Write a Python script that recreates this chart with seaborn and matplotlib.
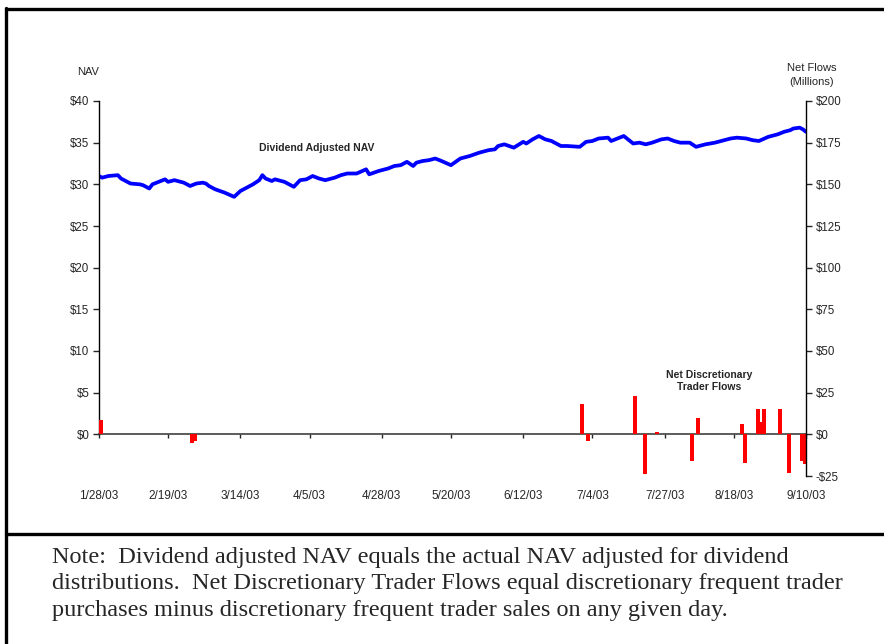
import pandas as pd
import numpy as np
import matplotlib.pyplot as plt
import matplotlib.dates as mdates
from matplotlib.lines import Line2D
import seaborn as sns

# ==============================
# DATA
# ==============================

nav_dates = [
    "2003-01-28", "2003-01-29", "2003-01-31", "2003-02-03", "2003-02-04", "2003-02-05",
    "2003-02-07", "2003-02-10", "2003-02-11", "2003-02-13", "2003-02-14", "2003-02-16",
    "2003-02-18", "2003-02-19", "2003-02-21", "2003-02-24", "2003-02-26", "2003-02-28",
    "2003-03-02", "2003-03-03", "2003-03-04", "2003-03-06", "2003-03-09", "2003-03-12",
    "2003-03-14", "2003-03-18", "2003-03-20", "2003-03-21", "2003-03-22", "2003-03-24",
    "2003-03-25", "2003-03-28", "2003-03-31", "2003-04-02", "2003-04-04", "2003-04-06",
    "2003-04-08", "2003-04-10", "2003-04-13", "2003-04-15", "2003-04-17", "2003-04-20",
    "2003-04-23", "2003-04-24", "2003-04-27", "2003-04-30", "2003-05-02", "2003-05-04",
    "2003-05-06", "2003-05-08", "2003-05-09", "2003-05-11", "2003-05-13", "2003-05-15",
    "2003-05-17", "2003-05-20", "2003-05-23", "2003-05-26", "2003-05-29", "2003-06-01",
    "2003-06-03", "2003-06-04", "2003-06-06", "2003-06-09", "2003-06-12", "2003-06-13",
    "2003-06-15", "2003-06-17", "2003-06-19", "2003-06-21", "2003-06-24", "2003-06-26",
    "2003-06-30", "2003-07-02", "2003-07-04", "2003-07-06", "2003-07-09", "2003-07-10",
    "2003-07-12", "2003-07-14", "2003-07-15", "2003-07-17", "2003-07-19", "2003-07-21",
    "2003-07-23", "2003-07-26", "2003-07-28", "2003-07-30", "2003-07-31", "2003-08-01",
    "2003-08-04", "2003-08-06", "2003-08-09", "2003-08-12", "2003-08-15", "2003-08-17",
    "2003-08-19", "2003-08-22", "2003-08-24", "2003-08-26", "2003-08-29", "2003-09-01",
    "2003-09-03", "2003-09-05", "2003-09-06", "2003-09-08", "2003-09-09", "2003-09-10",
]
nav_values = [
    31.0, 30.8, 31.0, 31.1, 30.7, 30.5,
    30.1, 30.0, 29.9, 29.5, 30.0, 30.3,
    30.6, 30.3, 30.5, 30.2, 29.8, 30.1,
    30.2, 30.1, 29.8, 29.4, 29.0, 28.5,
    29.2, 30.0, 30.5, 31.1, 30.7, 30.4,
    30.6, 30.3, 29.7, 30.5, 30.6, 31.0,
    30.7, 30.5, 30.8, 31.1, 31.3, 31.3,
    31.8, 31.2, 31.6, 31.9, 32.2, 32.3,
    32.7, 32.2, 32.6, 32.8, 32.9, 33.1,
    32.8, 32.3, 33.1, 33.4, 33.8, 34.1,
    34.2, 34.6, 34.8, 34.4, 35.1, 34.9,
    35.4, 35.8, 35.4, 35.2, 34.6, 34.6,
    34.5, 35.1, 35.2, 35.5, 35.6, 35.2,
    35.5, 35.8, 35.5, 34.9, 35.0, 34.8,
    35.0, 35.4, 35.5, 35.2, 35.1, 35.0,
    35.0, 34.5, 34.8, 35.0, 35.3, 35.5,
    35.6, 35.5, 35.3, 35.2, 35.7, 36.0,
    36.3, 36.5, 36.7, 36.8, 36.6, 36.3,
]

flow_dates = [
    "2003-01-28", "2003-02-26", "2003-02-27", "2003-06-30", "2003-07-02", "2003-07-17",
    "2003-07-20", "2003-07-24", "2003-08-04", "2003-08-06", "2003-08-20", "2003-08-21",
    "2003-08-25", "2003-08-26", "2003-08-27", "2003-09-01", "2003-09-04", "2003-09-08",
    "2003-09-09",
]
flow_values = [
    8.4, -5.2, -4.0, 18.5, -3.8, 23.3,
    -23.8, 1.5, -16.0, 10.0, 6.5, -17.0,
    15.4, 7.4, 15.4, 15.4, -23.0, -16.0,
    -18.0,
]

tick_dates = ["2003-01-28", "2003-02-19", "2003-03-14", "2003-04-05", "2003-04-28", "2003-05-20",
              "2003-06-12", "2003-07-04", "2003-07-27", "2003-08-18", "2003-09-10"]
tick_labels = ["1/28/03", "2/19/03", "3/14/03", "4/5/03", "4/28/03", "5/20/03",
               "6/12/03", "7/4/03", "7/27/03", "8/18/03", "9/10/03"]

nav_ticks = [0, 5, 10, 15, 20, 25, 30, 35, 40]
nav_tick_labels = ["$0", "$5", "$10", "$15", "$20", "$25", "$30", "$35", "$40"]
flow_ticks = [-25, 0, 25, 50, 75, 100, 125, 150, 175, 200]
flow_tick_labels = ["-$25", "$0", "$25", "$50", "$75", "$100", "$125", "$150", "$175", "$200"]

note_lines = [
    "Note:  Dividend adjusted NAV equals the actual NAV adjusted for dividend",
    "distributions.  Net Discretionary Trader Flows equal discretionary frequent trader",
    "purchases minus discretionary frequent trader sales on any given day.",
]

# ==============================
# PLOT
# ==============================

sns.set_style("white")
plt.rcParams["font.family"] = ["Liberation Sans", "DejaVu Sans"]

W, H = 884, 644
fig = plt.figure(figsize=(W / 100, H / 100), dpi=100)

# axes box: x 99..806 px, y 101..476 px
ax = fig.add_axes([99 / W, 1 - 476 / H, 707 / W, 375 / H])

nav = pd.DataFrame({"date": pd.to_datetime(nav_dates), "nav": nav_values})
sns.lineplot(data=nav, x="date", y="nav", ax=ax, color="#0000ff", linewidth=2.7)

start, end = pd.Timestamp("2003-01-28"), pd.Timestamp("2003-09-10")
ax.set_xlim(start, end)
ax.set_ylim(-5, 40)
ax.set_xlabel("")
ax.set_ylabel("")

ax.set_yticks(nav_ticks)
ax.set_yticklabels(nav_tick_labels)
ax.set_xticks(pd.to_datetime(tick_dates))
ax.set_xticklabels(tick_labels)

for s in ["top", "right"]:
    ax.spines[s].set_visible(False)
ax.spines["left"].set_bounds(0, 40)
ax.spines["bottom"].set_position(("data", 0))
ax.spines["bottom"].set_color("#404040")
ax.spines["left"].set_color("black")
ax.spines["bottom"].set_linewidth(1.2)
ax.spines["left"].set_linewidth(1.0)

ax.tick_params(axis="y", direction="out", length=4, width=1, labelsize=8.3, pad=3, left=True)
ax.tick_params(axis="x", direction="out", length=3, width=1, labelsize=8.5, pad=37, bottom=True)

# ---- flows on the right axis
ax2 = ax.twinx()
ax2.bar(mdates.date2num(pd.to_datetime(flow_dates)), flow_values,
        width=1.3, align="edge", color="#ff0000", linewidth=0)
ax2.set_ylim(-25, 200)
ax2.set_yticks(flow_ticks)
ax2.set_yticklabels(flow_tick_labels)
for s in ["top", "left", "bottom"]:
    ax2.spines[s].set_visible(False)
ax2.spines["right"].set_color("black")
ax2.spines["right"].set_linewidth(1.0)
ax2.tick_params(axis="y", direction="out", length=4, width=1, labelsize=8.3, pad=3, right=True)
ax2.set_xlim(start, end)

# ---- labels
fig.text(88 / W, 1 - 72 / H, "NAV", ha="center", va="center", fontsize=8)
fig.text(812 / W, 1 - 75 / H, "Net Flows\n(Millions)", ha="center", va="center",
         fontsize=8, linespacing=1.4)
fig.text(317 / W, 1 - 148 / H, "Dividend Adjusted NAV", ha="center", va="center",
         fontsize=7.5, fontweight="bold")
fig.text(709 / W, 1 - 381 / H, "Net Discretionary\nTrader Flows", ha="center", va="center",
         fontsize=7.5, fontweight="bold", linespacing=1.35)

# ---- frame
lw = 2.4
fig.add_artist(Line2D([6 / W, 6 / W], [0, 1 - 8 / H], transform=fig.transFigure, color="black", lw=lw))
fig.add_artist(Line2D([6 / W, 1], [1 - 9 / H, 1 - 9 / H], transform=fig.transFigure, color="black", lw=lw))
fig.add_artist(Line2D([6 / W, 1], [1 - 534 / H, 1 - 534 / H], transform=fig.transFigure, color="black", lw=lw))

# ---- note
for i, line in enumerate(note_lines):
    fig.text(52 / W, 1 - (557 + 26.7 * i) / H, line, ha="left", va="center",
             fontsize=17.5, family=["Liberation Serif", "DejaVu Serif"])

plt.savefig("out.png", dpi=100)
